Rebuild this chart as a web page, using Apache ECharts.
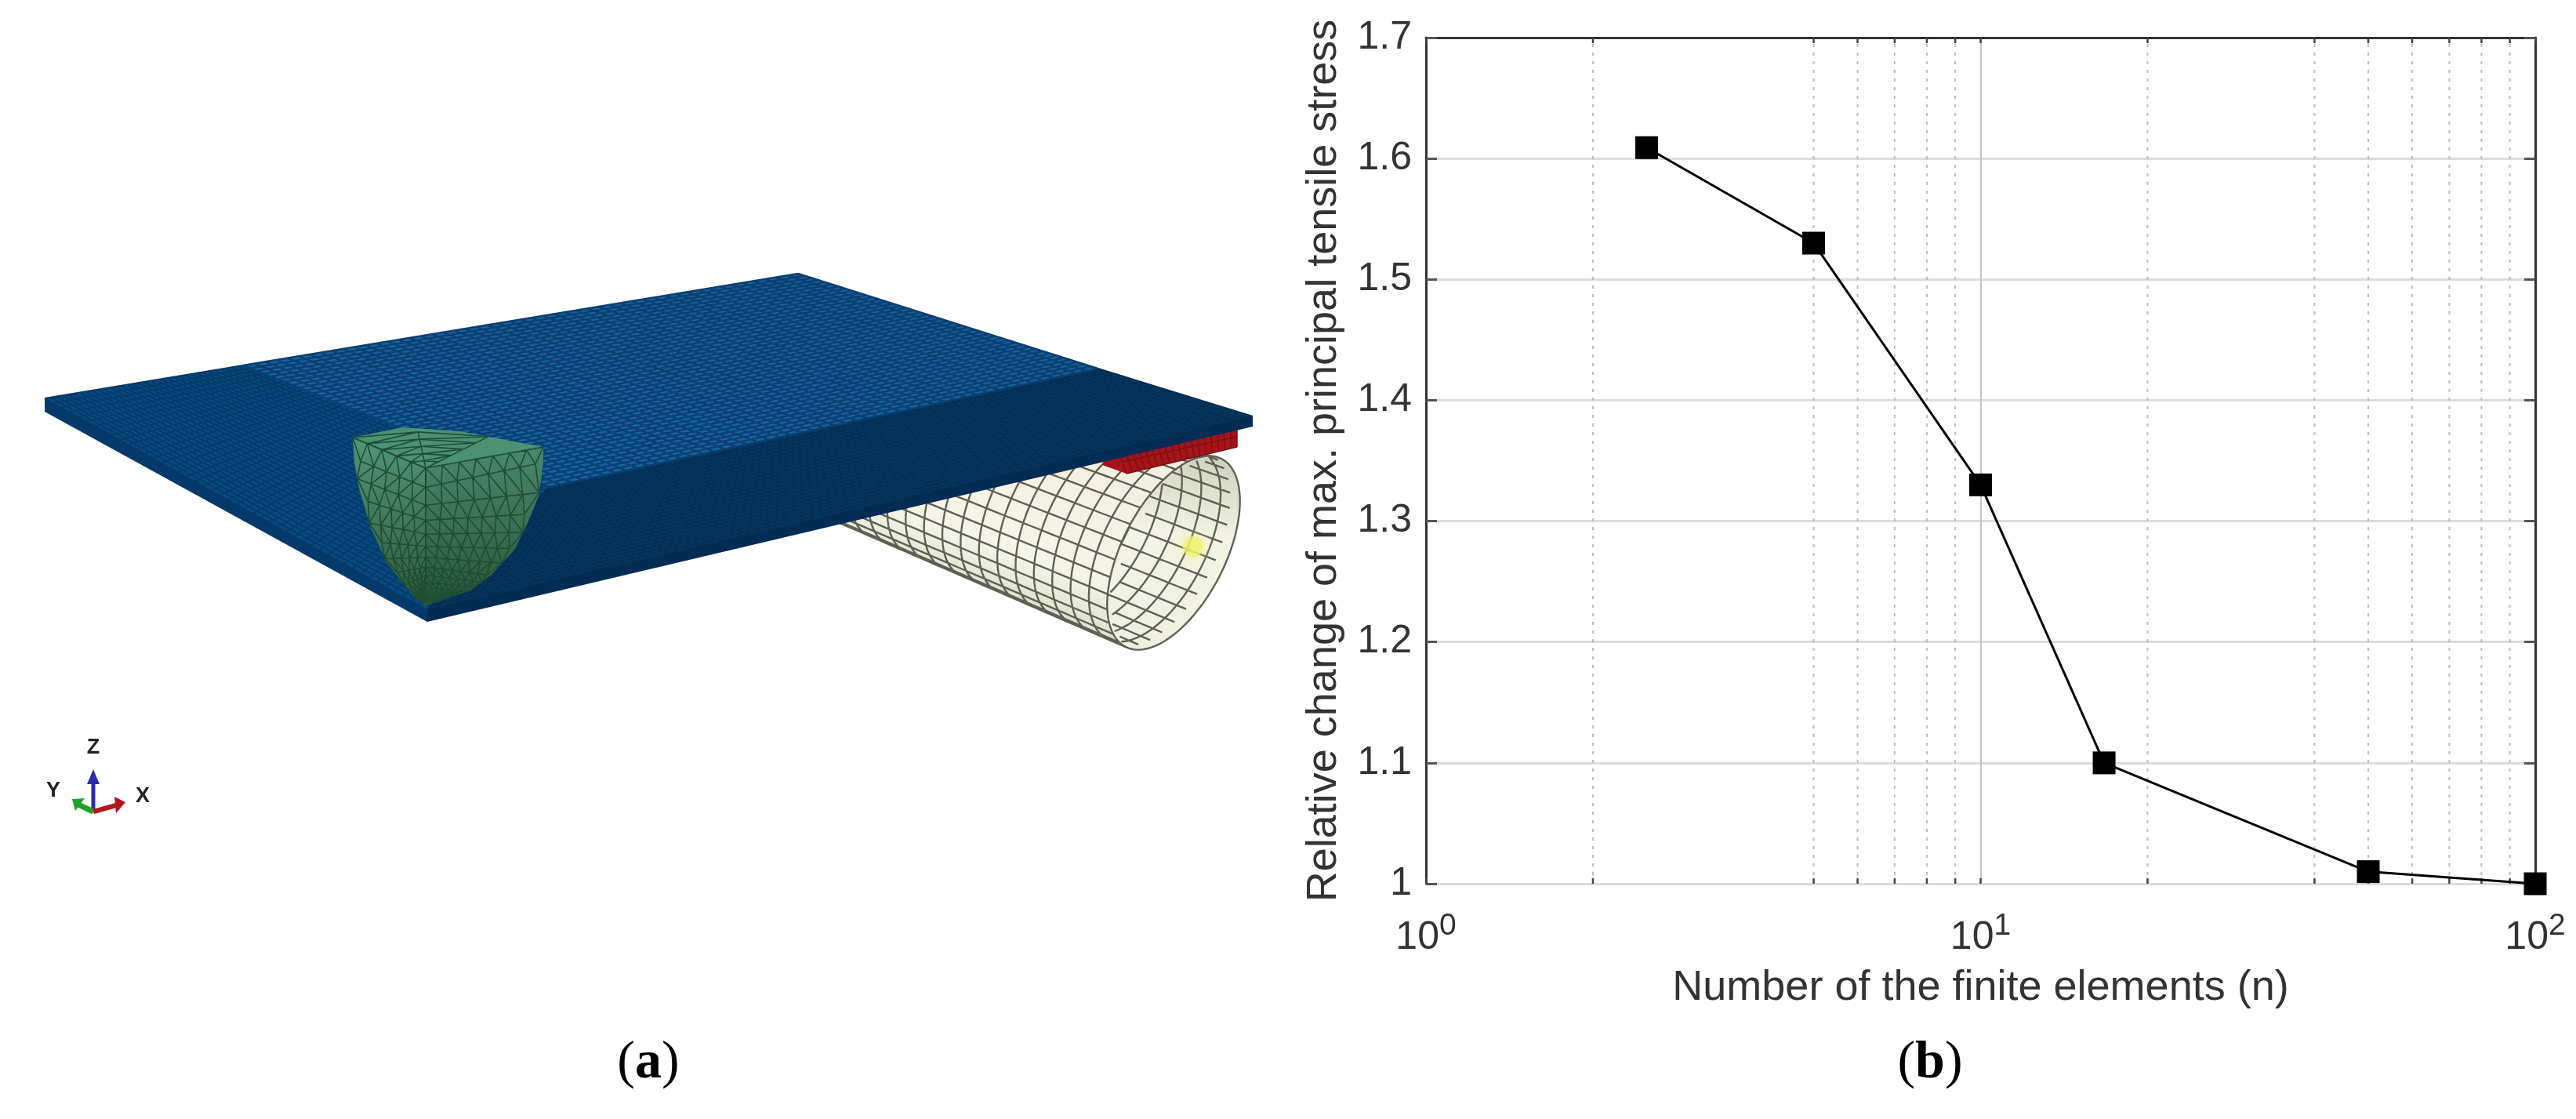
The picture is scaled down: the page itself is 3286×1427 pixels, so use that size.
<!DOCTYPE html>
<html>
<head>
<meta charset="utf-8">
<title>Finite element model and mesh convergence</title>
<script src="https://cdn.jsdelivr.net/npm/echarts@6/dist/echarts.min.js"></script>
<style>
html, body { margin: 0; padding: 0; background: #fff; }
#chart0 { width: 3286px; height: 1427px; }
</style>
</head>
<body>
<div id="chart0"></div>
<script>
// chart data
var elementCounts = [2.5, 5, 10, 16.7, 50, 100];
var relativeStress = [1.609, 1.53, 1.33, 1.1, 1.01, 1.0];
// 3, 4 and 30 have no line in the reference
var minorGridValues = [2, 5, 6, 7, 8, 9, 20, 40, 50, 60, 70, 80, 90];
var xTickExponents = { 1: 0, 10: 1, 100: 2 };

var xTitle = 'Number of the finite elements (n)';
var yTitle = 'Relative change of max. principal tensile stress';

var textColor = '#333';
var axisColor = '#333';

// ---- helpers for the model picture on the left ----
function lerp(a, b, t) {
	return [a[0] + (b[0] - a[0]) * t, a[1] + (b[1] - a[1]) * t];
}
function seg(a, b) {
	return 'M' + a[0].toFixed(1) + ' ' + a[1].toFixed(1) + 'L' + b[0].toFixed(1) + ' ' + b[1].toFixed(1);
}
// straight grid over a four sided patch
function quadMesh(a, b, c, d, nu, nv) {
	var s = '';
	for (var i = 0; i <= nu; i++) s += seg(lerp(a, b, i / nu), lerp(d, c, i / nu));
	for (var j = 0; j <= nv; j++) s += seg(lerp(a, d, j / nv), lerp(b, c, j / nv));
	return s;
}
function polyAt(pts, t) {
	var f = t * (pts.length - 1);
	var i = Math.min(Math.floor(f), pts.length - 2);
	return lerp(pts[i], pts[i + 1], f - i);
}
// rows of triangles between two edges that run to the same tip
function triMesh(edgeA, edgeB, rows, cols) {
	var s = '', prev = null;
	for (var i = 0; i <= rows.length - 1; i++) {
		var row = [];
		var pa = polyAt(edgeA, rows[i]), pb = polyAt(edgeB, rows[i]);
		for (var j = 0; j <= cols; j++) {
			row.push(lerp(pa, pb, (j + (i % 2) * 0.5) / (cols + (i % 2) * 0.5)));
		}
		for (j = 0; j < cols; j++) s += seg(row[j], row[j + 1]);
		if (prev) {
			for (j = 0; j <= cols; j++) {
				s += seg(prev[j], row[j]);
				if (j < cols) s += seg(prev[j + 1], row[j]);
			}
		}
		prev = row;
	}
	return s;
}
function solid(points, fill) {
	return { type: 'polygon', shape: { points: points }, style: { fill: fill } };
}
function wire(d, color, width) {
	return { type: 'path', shape: { pathData: d }, style: { fill: 'none', stroke: color, lineWidth: width } };
}

function buildModel() {
	var els = [];

	// tube under the plate
	var C = [1497, 705], U = [33, -122], V = [78, -20], D = [-480, -186];
	var det = U[0] * V[1] - V[0] * U[1];
	var al = (D[0] * V[1] - V[0] * D[1]) / det;
	var be = (U[0] * D[1] - D[0] * U[1]) / det;
	function ringPt(th, t) {
		var s = 1 - 0.15 * t;
		return [C[0] + D[0] * t + s * (Math.cos(th) * U[0] + Math.sin(th) * V[0]),
			C[1] + D[1] * t + s * (Math.cos(th) * U[1] + Math.sin(th) * V[1])];
	}
	function insideRim(p) {
		var x = p[0] - C[0], y = p[1] - C[1];
		var a = (x * V[1] - V[0] * y) / det, b = (U[0] * y - x * U[1]) / det;
		return a * a + b * b < 0.995;
	}
	function outerSide(th) {
		return Math.cos(th) * al + Math.sin(th) * be > 0;
	}
	var hull = [], rim = [], k, th;
	for (k = 0; k < 120; k++) {
		th = k / 120 * Math.PI * 2;
		rim.push(ringPt(th, 0));
		if (!outerSide(th)) hull.push(ringPt(th, 0));
	}
	for (k = 0; k < 120; k++) {
		th = k / 120 * Math.PI * 2;
		if (outerSide(th)) hull.push(ringPt(th, 1));
	}
	// sort around the middle so that the outline closes properly
	var mid = [C[0] + D[0] / 2, C[1] + D[1] / 2];
	hull.sort(function(p, q) {
		return Math.atan2(p[1] - mid[1], p[0] - mid[0]) - Math.atan2(q[1] - mid[1], q[0] - mid[0]);
	});
	els.push(solid(hull, {
		type: 'linear', x: 0.55, y: 0.1, x2: 0.35, y2: 1,
		colorStops: [{ offset: 0, color: '#f3ecdc' }, { offset: 0.6, color: '#f5f5e6' }, { offset: 1, color: '#bdbead' }]
	}));
	els.push(solid(rim, {
		type: 'linear', x: 0.6, y: 0, x2: 0.4, y2: 1,
		colorStops: [{ offset: 0, color: '#d2d2c4' }, { offset: 0.4, color: '#f3f4e4' }, { offset: 1, color: '#f0f0df' }]
	}));
	var outer = '', inner = '';
	var nRound = 34, nLong = 20, step = 96;
	for (var r = 0; r <= nLong; r++) {
		for (k = 0; k < step; k++) {
			var t0 = k / step * Math.PI * 2, t1 = (k + 1) / step * Math.PI * 2;
			var p0 = ringPt(t0, r / nLong), p1 = ringPt(t1, r / nLong);
			if (r === 0) inner += seg(p0, p1);
			else if (outerSide(t0)) {
				if (!insideRim(p0) && !insideRim(p1)) outer += seg(p0, p1);
			} else if (insideRim(p0) && insideRim(p1)) inner += seg(p0, p1);
		}
	}
	for (k = 0; k < nRound; k++) {
		th = k / nRound * Math.PI * 2;
		for (r = 0; r < nLong * 2; r++) {
			var a = ringPt(th, r / (nLong * 2)), b = ringPt(th, (r + 1) / (nLong * 2));
			if (outerSide(th)) outer += seg(a, b);
			else if (insideRim(a) && insideRim(b)) inner += seg(a, b);
		}
	}
	els.push(wire(outer, '#5d6155', 2.4));
	els.push(wire(inner, '#5d6155', 2.4));
	els.push({
		type: 'circle', shape: { cx: 1522, cy: 697, r: 13 },
		style: { fill: 'rgba(238,244,110,0.75)', shadowBlur: 16, shadowColor: 'rgba(238,244,110,0.9)' }
	});

	// red block between plate and tube
	var redA = [1578, 530], redB = [1578, 570], redC = [1437, 604], redD = [1406, 593], redE = [1420, 560];
	els.push(solid([redE, redA, redB, redC, redD], '#a5141a'));
	els.push(wire(quadMesh(redE, redA, redB, redC, 18, 3), '#7d1014', 1.5));

	// plate
	var L = [57, 508], B = [1018, 349], R = [1598, 531], F = [545, 778];
	var L2 = [57, 525], R2 = [1598, 544], F2 = [545, 793];
	var P1 = [310, 466], P2 = [1400, 470], P3 = [701, 621];
	els.push(solid([L, F, F2, L2], '#05396a'));
	els.push(solid([F, R, R2, F2], '#032c54'));
	els.push(solid([L, B, R, F], '#07427a'));
	els.push(solid([L, P1, P3, F], '#084a80'));
	els.push(wire(quadMesh(L, P1, P3, F, 34, 46), '#043a69', 2));
	els.push(solid([F, P3, P2, R], '#05375f'));
	els.push(wire(quadMesh(F, P3, P2, R, 26, 90), '#042f56', 2));
	els.push(solid([P1, B, P2, P3], '#17659f'));
	els.push(wire(quadMesh(P1, B, P2, P3, 50, 44), '#0b3f72', 2.6));

	// indenter, three curved faces meeting at the tip
	var A = [450, 558], Ctr = [543, 597], Rt = [693, 570], Tip = [543, 772];
	var leftEdge = [A, [452, 590], [458, 623], [473, 673], [493, 717], [527, 760], Tip];
	var rightEdge = [Rt, [693, 590], [687, 633], [673, 667], [657, 700], [627, 733], [600, 753], Tip];
	var midEdge = [Ctr, Tip];
	var backArc = [A, [513, 545], [587, 550], Rt];
	var rows = [0, 0.14, 0.27, 0.38, 0.48, 0.57, 0.65, 0.72, 0.78, 0.83, 0.87, 0.91, 0.94, 0.97];
	var faceFill = function(top, low) {
		return { type: 'linear', x: 0, y: 0, x2: 0, y2: 1, colorStops: [{ offset: 0, color: top }, { offset: 1, color: low }] };
	};
	els.push(solid(leftEdge.concat([Ctr]), faceFill('#4f9576', '#2f5a3d')));
	els.push(solid(rightEdge.concat([Ctr]), faceFill('#478a6c', '#2d533a')));
	els.push(solid(backArc.concat([Ctr]), '#4c9272'));
	els.push(wire(triMesh(leftEdge, midEdge, rows, 5), '#1f4d33', 1.6));
	els.push(wire(triMesh(rightEdge, midEdge, rows, 7), '#1f4d33', 1.6));
	els.push(wire(triMesh(backArc, [Ctr, Ctr], [0, 0.42, 0.78], 5), '#1f4d33', 1.6));

	// axes triad
	var O = [119, 1035];
	els.push(wire(seg(O, [119, 992]), '#2b2bb0', 5));
	els.push(solid([[119, 981], [111, 1000], [127, 1000]], '#2b2bb0'));
	els.push(wire(seg(O, [100, 1026]), '#1ea32a', 7));
	els.push(solid([[92, 1019], [108, 1018], [96, 1034]], '#1ea32a'));
	els.push(wire(seg(O, [148, 1027]), '#b3161c', 6));
	els.push(solid([[160, 1023], [146, 1016], [148, 1037]], '#b3161c'));
	return els;
}

function triadLabel(l) {
	return {
		type: 'text', z: 30, x: l[1], y: l[2],
		style: { text: l[0], fill: '#222', font: 'bold 27px "Liberation Sans"', align: 'center', verticalAlign: 'middle' }
	};
}

function panelLetter(letter, cx) {
	return {
		type: 'text', z: 40, x: cx, y: 1356,
		style: {
			text: '({b|' + letter + '})',
			fill: '#000',
			font: '68px "Liberation Serif"',
			align: 'center',
			verticalAlign: 'middle',
			rich: { b: { fontFamily: 'Liberation Serif', fontSize: 68, fontWeight: 'bold', fill: '#000' } }
		}
	};
}

var initChart = function() {
	var myChart = echarts.init(document.getElementById('chart0'));

	// the log axis only gives ticks at the decades, so the rest comes from here
	var renderMinor = function(params, api) {
		var x = api.value(0);
		var low = api.coord([x, 1]);
		var high = api.coord([x, 1.7]);
		return {
			type: 'group',
			children: [{
				type: 'line',
				shape: { x1: low[0], y1: low[1], x2: high[0], y2: high[1] },
				style: { stroke: '#bdbdbd', lineWidth: 2, lineDash: [4, 7] }
			}, {
				type: 'line',
				shape: { x1: low[0], y1: low[1], x2: low[0], y2: low[1] - 7 },
				style: { stroke: '#444', lineWidth: 2.5 }
			}, {
				type: 'line',
				shape: { x1: high[0], y1: high[1], x2: high[0], y2: high[1] + 7 },
				style: { stroke: '#444', lineWidth: 2.5 }
			}]
		};
	};

	var modelEls = buildModel();

	var option = {
		animation: false,
		backgroundColor: '#fff',
		textStyle: { fontFamily: 'Liberation Sans' },
		grid: { left: 1819, right: 52, top: 48, height: 1079, containLabel: false },
		xAxis: [{
			type: 'log',
			logBase: 10,
			min: 1,
			max: 100,
			position: 'bottom',
			axisLine: { show: false },
			axisTick: { show: true, inside: true, length: 7, lineStyle: { color: '#444', width: 2.5 } },
			splitLine: { show: true, lineStyle: { color: '#c4c4c4', width: 2 } },
			minorTick: { show: false },
			minorSplitLine: { show: false },
			axisLabel: {
				margin: 35,
				color: textColor,
				formatter: function(v) {
					return '{base|10}{sup|' + xTickExponents[Math.round(v)] + '}';
				},
				rich: {
					base: { fontSize: 50, color: textColor, fontFamily: 'Liberation Sans' },
					sup: { fontSize: 39, color: textColor, fontFamily: 'Liberation Sans', padding: [0, 0, 30, 0] }
				}
			},
			name: xTitle,
			nameLocation: 'middle',
			nameGap: 133,
			nameTextStyle: { fontSize: 54, color: textColor, fontFamily: 'Liberation Sans', verticalAlign: 'middle' }
		}, {
			type: 'log',
			logBase: 10,
			min: 1,
			max: 100,
			position: 'top',
			axisLine: { show: true, onZero: false, lineStyle: { color: axisColor, width: 3 } },
			axisTick: { show: true, inside: true, length: 7, lineStyle: { color: '#444', width: 2.5 } },
			axisLabel: { show: false },
			splitLine: { show: false }
		}],
		yAxis: [{
			type: 'value',
			min: 1,
			max: 1.7,
			interval: 0.1,
			position: 'left',
			axisLine: { show: true, onZero: false, lineStyle: { color: axisColor, width: 3 } },
			axisTick: { show: true, inside: true, length: 14, lineStyle: { color: '#555', width: 3 } },
			splitLine: { show: true, lineStyle: { color: '#dcdcdc', width: 3 } },
			axisLabel: { margin: 18, fontSize: 50, color: textColor, fontFamily: 'Liberation Sans' },
			name: yTitle,
			nameLocation: 'middle',
			nameGap: 130,
			nameRotate: 90,
			nameTextStyle: { fontSize: 54, color: textColor, fontFamily: 'Liberation Sans', verticalAlign: 'middle' }
		}, {
			type: 'value',
			min: 1,
			max: 1.7,
			interval: 0.1,
			position: 'right',
			axisLine: { show: true, onZero: false, lineStyle: { color: axisColor, width: 3 } },
			axisTick: { show: true, inside: true, length: 14, lineStyle: { color: '#555', width: 3 } },
			axisLabel: { show: false },
			splitLine: { show: false }
		}],
		series: [{
			// the FE model drawing, not data: plain page pixels
			type: 'custom',
			name: 'model',
			coordinateSystem: 'none',
			silent: true,
			data: [[0]],
			renderItem: function() {
				return { type: 'group', children: modelEls };
			}
		}, {
			type: 'custom',
			name: 'minor grid',
			silent: true,
			clip: false,
			z: 1,
			data: minorGridValues.map(function(v) { return [v]; }),
			encode: { x: 0 },
			renderItem: renderMinor
		}, {
			type: 'line',
			name: 'relative change',
			clip: false,
			z: 5,
			symbol: 'rect',
			symbolSize: 29,
			showAllSymbol: true,
			lineStyle: { color: '#000', width: 3 },
			itemStyle: { color: '#000' },
			data: elementCounts.map(function(n, i) { return [n, relativeStress[i]]; })
		}],
		graphic: { elements: [['Z', 119, 954], ['Y', 68, 1009], ['X', 182, 1016]].map(triadLabel).concat([panelLetter('a', 827), panelLetter('b', 2462)]) }
	};

	myChart.setOption(option);
}();
</script>
</body>
</html>
